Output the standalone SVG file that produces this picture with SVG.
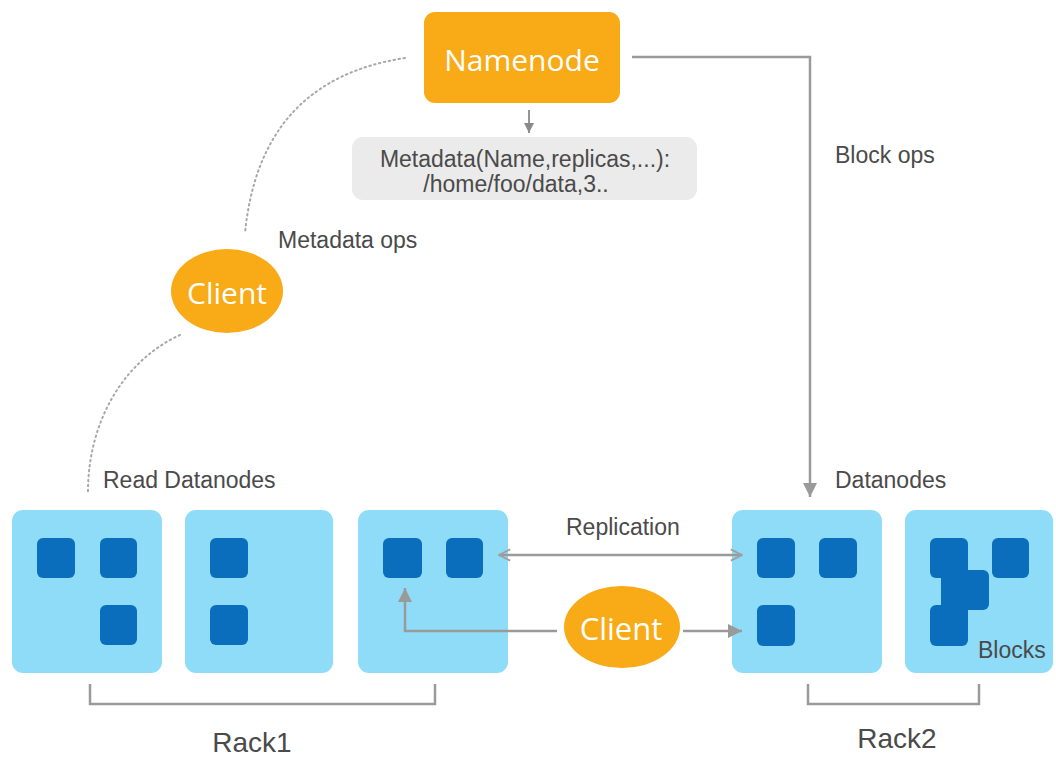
<svg xmlns="http://www.w3.org/2000/svg" width="1056" height="760" viewBox="0 0 1056 760">
  <defs>
    <style>
      .orange { fill: #F8AA17; }
      .label { font-family: "Liberation Sans", Arial, sans-serif; font-size: 23px; fill: #4a4a4a; }
      .rack { font-family: "Liberation Sans", Arial, sans-serif; font-size: 28px; fill: #4a4a4a; }
      .white { font-family: "Open Sans", "Liberation Sans", sans-serif; fill: #ffffff; font-weight: 500; }
      .dn { fill: #8EDCF8; }
      .blk { fill: #0A6EBD; }
      .conn { stroke: #9a9a9a; stroke-width: 2.5; fill: none; }
      .dot { stroke: #a8a8a8; stroke-width: 2; fill: none; stroke-dasharray: 1.5 3.5; stroke-linecap: round; }
      .bracket { stroke: #9a9a9a; stroke-width: 2.5; fill: none; }
    </style>
    <marker id="arrowFill" viewBox="0 0 10 10" refX="10" refY="5" markerUnits="userSpaceOnUse" markerWidth="14" markerHeight="14" orient="auto">
      <path d="M0,0 L10,5 L0,10 z" fill="#9a9a9a"/>
    </marker>
    <marker id="arrowSmall" viewBox="0 0 10 10" refX="10" refY="5" markerUnits="userSpaceOnUse" markerWidth="10" markerHeight="10" orient="auto">
      <path d="M0,0 L10,5 L0,10 z" fill="#8a8a8a"/>
    </marker>
    <marker id="chevron" viewBox="0 0 10 10" refX="9" refY="5" markerUnits="userSpaceOnUse" markerWidth="14" markerHeight="14" orient="auto-start-reverse">
      <path d="M1,1 L9,5 L1,9" fill="none" stroke="#a0a0a0" stroke-width="1.3"/>
    </marker>
  </defs>

  <rect width="1056" height="760" fill="#ffffff"/>

  <g id="namenode">
    <rect class="orange" x="424" y="12" width="196" height="91" rx="11"/>
    <text class="white" x="522" y="71" font-size="30" text-anchor="middle">Namenode</text>
  </g>

  <g id="metadata">
    <rect x="352" y="137" width="345" height="63" rx="11" fill="#EBEBEB"/>
    <text class="label" x="525" y="167" text-anchor="middle">Metadata(Name,replicas,...):</text>
    <text class="label" x="516" y="192" text-anchor="middle">/home/foo/data,3..</text>
  </g>

  <g id="labels">
    <text class="label" x="835" y="163">Block ops</text>
    <text class="label" x="278" y="248">Metadata ops</text>
    <text class="label" x="103" y="488">Read Datanodes</text>
    <text class="label" x="835" y="488">Datanodes</text>
    <text class="label" x="566" y="535">Replication</text>
  </g>

  <g id="datanode-1">
    <rect class="dn" x="12" y="510" width="150" height="163" rx="11"/>
    <rect class="blk" x="37" y="538" width="38" height="40" rx="6"/>
    <rect class="blk" x="100" y="538" width="37" height="40" rx="6"/>
    <rect class="blk" x="100" y="605" width="37" height="40" rx="6"/>
  </g>

  <g id="datanode-2">
    <rect class="dn" x="185" y="510" width="148" height="163" rx="11"/>
    <rect class="blk" x="210" y="538" width="38" height="40" rx="6"/>
    <rect class="blk" x="210" y="605" width="38" height="40" rx="6"/>
  </g>

  <g id="datanode-3">
    <rect class="dn" x="358" y="510" width="150" height="163" rx="11"/>
    <rect class="blk" x="383" y="538" width="39" height="40" rx="6"/>
    <rect class="blk" x="446" y="538" width="37" height="40" rx="6"/>
  </g>

  <g id="datanode-4">
    <rect class="dn" x="732" y="510" width="150" height="163" rx="11"/>
    <rect class="blk" x="757" y="538" width="38" height="40" rx="6"/>
    <rect class="blk" x="819" y="538" width="38" height="40" rx="6"/>
    <rect class="blk" x="757" y="605" width="38" height="41" rx="6"/>
  </g>

  <g id="datanode-5">
    <rect class="dn" x="905" y="510" width="148" height="163" rx="11"/>
    <rect class="blk" x="930" y="538" width="38" height="40" rx="6"/>
    <rect class="blk" x="952" y="570" width="37" height="40" rx="6"/>
    <rect class="blk" x="930" y="605" width="38" height="41" rx="6"/>
    <rect class="blk" x="941" y="560" width="20" height="55"/>
    <rect class="blk" x="992" y="538" width="37" height="40" rx="6"/>
    <text class="label" x="978" y="658">Blocks</text>
  </g>

  <g id="connectors">
    <path class="dot" d="M405,58 Q260,80 245,233"/>
    <path class="dot" d="M180,335 C125,360 88,420 88,492"/>
    <line x1="529" y1="110" x2="529" y2="133" stroke="#8a8a8a" stroke-width="1.8" marker-end="url(#arrowSmall)"/>
    <polyline class="conn" points="632,57 810,57 810,497" marker-end="url(#arrowFill)"/>
    <line class="conn" x1="499" y1="555" x2="742" y2="555" stroke-width="2.2" marker-start="url(#chevron)" marker-end="url(#chevron)"/>
    <polyline class="conn" points="557,631 405,631 405,588" marker-end="url(#arrowFill)"/>
    <line class="conn" x1="683" y1="631" x2="742" y2="631" marker-end="url(#arrowFill)"/>
  </g>

  <g id="client-top">
    <ellipse class="orange" cx="227" cy="291" rx="56" ry="42"/>
    <text class="white" x="227" y="304" font-size="30" text-anchor="middle">Client</text>
  </g>

  <g id="client-bottom">
    <ellipse class="orange" cx="622" cy="627" rx="58" ry="41"/>
    <text class="white" x="621" y="640" font-size="31" text-anchor="middle">Client</text>
  </g>

  <g id="rack1">
    <polyline class="bracket" points="90,684 90,704 435,704 435,684"/>
    <text class="rack" x="252" y="752" text-anchor="middle">Rack1</text>
  </g>

  <g id="rack2">
    <polyline class="bracket" points="808,684 808,704 979,704 979,684"/>
    <text class="rack" x="897" y="748" text-anchor="middle">Rack2</text>
  </g>
</svg>
